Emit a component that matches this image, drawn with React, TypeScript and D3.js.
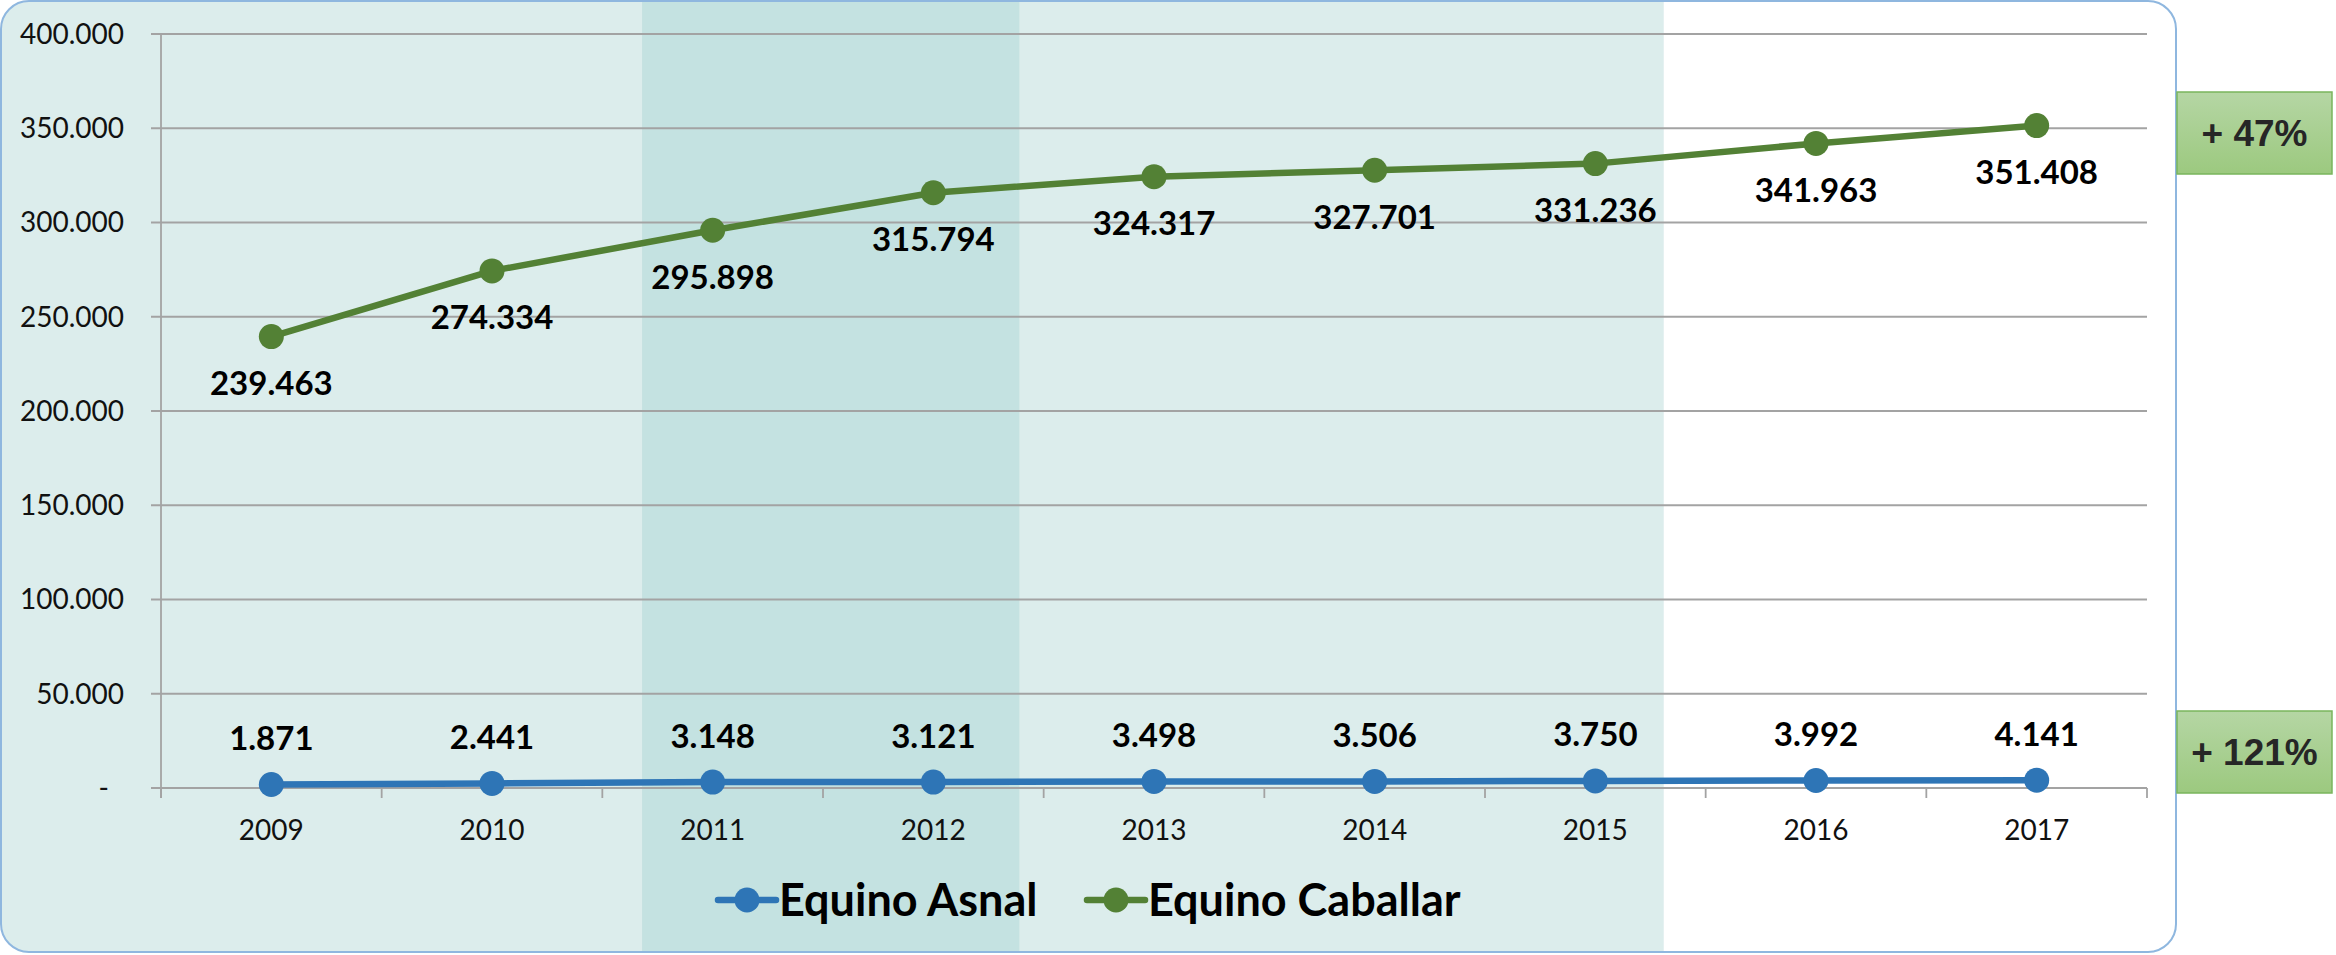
import { useEffect, useRef } from 'react';
import * as d3 from 'd3';

const years = ['2009', '2010', '2011', '2012', '2013', '2014', '2015', '2016', '2017'];
const asnal = [1871, 2441, 3148, 3121, 3498, 3506, 3750, 3992, 4141];
const caballar = [239463, 274334, 295898, 315794, 324317, 327701, 331236, 341963, 351408];
const yTicks = [0, 50000, 100000, 150000, 200000, 250000, 300000, 350000, 400000];
const seriesNames = ['Equino Asnal', 'Equino Caballar'];
const badgeLabels = ['+ 47%', '+ 121%'];

const W = 2336;
const H = 955;
const FONT = 'Lato, Roboto, sans-serif';

export default function App() {
    const svgRef = useRef(null);

    useEffect(() => {
        document.body.style.margin = '0';
        const svg = d3.select(svgRef.current);
        svg.selectAll('*').remove();

        const fmt = d3.formatLocale({ decimal: ',', thousands: '.', grouping: [3], currency: ['', ''] }).format(',d');

        const x = d3.scaleBand().domain(years).range([161, 2147]).padding(0);
        const y = d3.scaleLinear().domain([0, 400000]).range([788, 34]);
        const bw = x.bandwidth();
        const cx = d => x(d) + bw / 2;

        // box + background shading
        const boxW = 2175, boxH = 951, r = 28;
        svg.append('clipPath').attr('id', 'boxclip')
            .append('rect').attr('x', 1).attr('y', 1).attr('width', boxW).attr('height', boxH).attr('rx', r);
        const bg = svg.append('g').attr('clip-path', 'url(#boxclip)');
        bg.append('rect').attr('x', 0).attr('y', 0).attr('width', boxW + 2).attr('height', H).attr('fill', '#ffffff');
        bg.append('rect').attr('x', 0).attr('y', 0)
            .attr('width', x('2015') + bw * 0.81).attr('height', H).attr('fill', '#dcedec');
        bg.append('rect').attr('x', x('2011') + bw * 0.18).attr('y', 0)
            .attr('width', x('2012') + bw * 0.89 - (x('2011') + bw * 0.18)).attr('height', H).attr('fill', '#c4e2e1');
        svg.append('rect').attr('x', 1).attr('y', 1).attr('width', boxW).attr('height', boxH).attr('rx', r)
            .attr('fill', 'none').attr('stroke', '#8fb7df').attr('stroke-width', 2);

        // gridlines
        svg.append('g').selectAll('line').data(yTicks).enter().append('line')
            .attr('x1', 151).attr('x2', 2147)
            .attr('y1', d => y(d)).attr('y2', d => y(d))
            .attr('stroke', '#a3a3a3').attr('stroke-width', 1.8);

        // y axis line
        svg.append('line').attr('x1', 161).attr('x2', 161).attr('y1', y(400000)).attr('y2', 798)
            .attr('stroke', '#a3a3a3').attr('stroke-width', 1.8);

        // x ticks at category boundaries
        const bounds = years.map(d => x(d)).concat([x(years[years.length - 1]) + bw]);
        svg.append('g').selectAll('line').data(bounds).enter().append('line')
            .attr('x1', d => d).attr('x2', d => d).attr('y1', y(0)).attr('y2', 798)
            .attr('stroke', '#a3a3a3').attr('stroke-width', 1.8);

        // y labels
        svg.append('g').selectAll('text').data(yTicks).enter().append('text')
            .attr('x', d => d === 0 ? 109 : 124)
            .attr('y', d => y(d))
            .attr('dy', '0.35em')
            .attr('text-anchor', 'end')
            .attr('font-family', FONT).attr('font-size', 28).attr('fill', '#111')
            .text(d => d === 0 ? '-' : fmt(d));

        // x labels
        svg.append('g').selectAll('text').data(years).enter().append('text')
            .attr('x', d => cx(d)).attr('y', 830).attr('dy', '0.35em')
            .attr('text-anchor', 'middle')
            .attr('font-family', FONT).attr('font-size', 28).attr('fill', '#111')
            .text(d => d);

        const series = [
            { name: seriesNames[0], values: asnal, color: '#2e75b6', labelDy: -46 },
            { name: seriesNames[1], values: caballar, color: '#538135', labelDy: 47 },
        ];

        const line = d3.line().x(d => cx(d[0])).y(d => y(d[1]));

        series.forEach(s => {
            const pts = years.map((yr, i) => [yr, s.values[i]]);
            svg.append('path').datum(pts).attr('d', line)
                .attr('fill', 'none').attr('stroke', s.color).attr('stroke-width', 6.5)
                .attr('stroke-linejoin', 'round');
            svg.append('g').selectAll('circle').data(pts).enter().append('circle')
                .attr('cx', d => cx(d[0])).attr('cy', d => y(d[1])).attr('r', 12.5)
                .attr('fill', s.color);
            svg.append('g').selectAll('text').data(pts).enter().append('text')
                .attr('x', d => cx(d[0])).attr('y', d => y(d[1]) + s.labelDy).attr('dy', '0.35em')
                .attr('text-anchor', 'middle')
                .attr('font-family', FONT).attr('font-weight', 'bold').attr('font-size', 33).attr('fill', '#000')
                .text(d => fmt(d[1]));
        });

        // legend
        const legendX = [718, 1087];
        series.forEach((s, i) => {
            const g = svg.append('g').attr('transform', `translate(${legendX[i]},900)`);
            g.append('line').attr('x1', 0).attr('x2', 58).attr('y1', 0).attr('y2', 0)
                .attr('stroke', s.color).attr('stroke-width', 6.5).attr('stroke-linecap', 'round');
            g.append('circle').attr('cx', 29).attr('cy', 0).attr('r', 12.5).attr('fill', s.color);
            g.append('text').attr('x', 61).attr('y', 0).attr('dy', '0.35em')
                .attr('font-family', FONT).attr('font-weight', 'bold').attr('font-size', 45).attr('fill', '#000')
                .text(s.name);
        });

        // growth badges
        const grad = svg.append('defs').append('linearGradient').attr('id', 'badge')
            .attr('x1', 0).attr('y1', 0).attr('x2', 0).attr('y2', 1);
        grad.append('stop').attr('offset', '0%').attr('stop-color', '#b5d6a4');
        grad.append('stop').attr('offset', '100%').attr('stop-color', '#9cc97f');
        const badgeY = [133, 752];
        badgeLabels.forEach((t, i) => {
            const g = svg.append('g').attr('transform', `translate(2177,${badgeY[i] - 41})`);
            g.append('rect').attr('width', 155).attr('height', 82)
                .attr('fill', 'url(#badge)').attr('stroke', '#7ab55c').attr('stroke-width', 1.5);
            g.append('text').attr('x', 77.5).attr('y', 41).attr('dy', '0.36em')
                .attr('text-anchor', 'middle')
                .attr('font-family', '"Liberation Sans", Arial, sans-serif').attr('font-weight', 'bold')
                .attr('font-size', 37).attr('fill', '#262626')
                .text(t);
        });
    }, []);

    return (
        <div>
            <svg ref={svgRef} width={W} height={H} style={{ display: 'block' }}></svg>
        </div>
    );
}
